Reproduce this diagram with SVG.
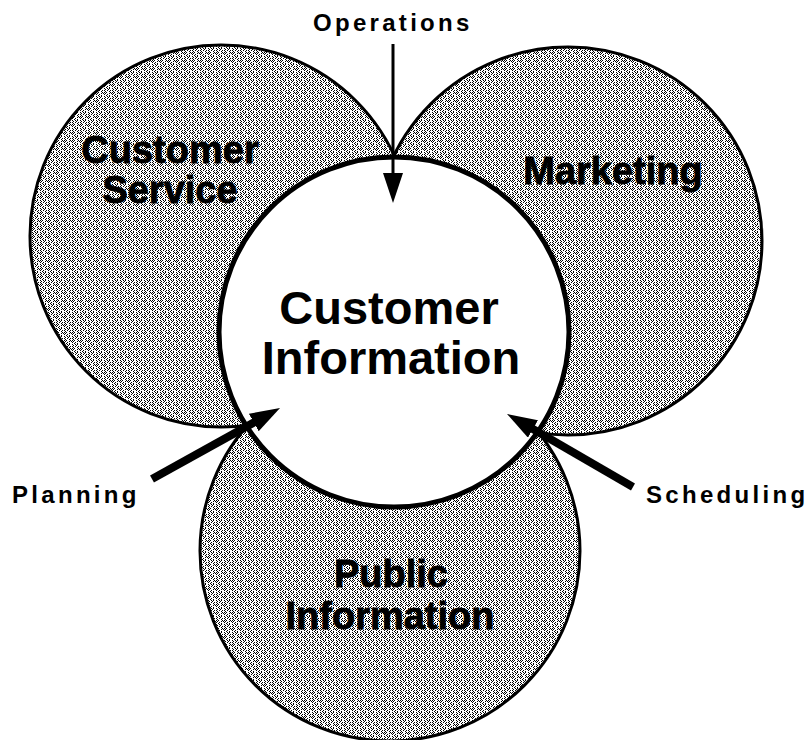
<svg xmlns="http://www.w3.org/2000/svg" width="810" height="740" viewBox="0 0 810 740">
<style>
.bg{fill:#fff}
.outer{fill:url(#stipple);stroke:#000;stroke-width:3}
.core{fill:#fff;stroke:#000;stroke-width:5}
.lbl{font-family:"Liberation Sans",Arial,sans-serif;font-weight:bold;fill:#000;text-anchor:middle}
.area{font-size:38px;stroke:#000;stroke-width:0.8}
.main{font-size:47px}
.src{font-family:"Liberation Sans",Arial,sans-serif;font-weight:bold;font-size:24px;letter-spacing:3.3px;fill:#000}
.thin{stroke:#000;stroke-width:3;fill:none;marker-end:url(#head)}
.thick{stroke:#000;stroke-width:8;fill:none;marker-end:url(#head)}
</style>
<defs>
<pattern id="stipple" patternUnits="userSpaceOnUse" x="0" y="0" width="8" height="8">
<rect width="8" height="8" fill="#fff"/>
<path fill="#000" d="M0 0h1v1h-1zM3 0h1v1h-1zM5 0h1v1h-1zM1 1h1v1h-1zM4 1h1v1h-1zM0 2h1v1h-1zM3 2h1v1h-1zM6 2h1v1h-1zM1 3h1v1h-1zM5 3h1v1h-1zM0 4h1v1h-1zM2 4h1v1h-1zM6 4h1v1h-1zM1 5h1v1h-1zM5 5h1v1h-1zM7 5h1v1h-1zM0 6h1v1h-1zM3 6h1v1h-1zM2 7h1v1h-1zM5 7h1v1h-1z"/>
</pattern>
<marker id="head" viewBox="0 0 30 20" refX="4" refY="10" markerWidth="30" markerHeight="20" markerUnits="userSpaceOnUse" orient="auto">
<path d="M0,0 L30,10 L0,20 z" fill="#000"/>
</marker>
</defs>
<rect class="bg" width="810" height="740"/>
<g id="customer-service">
<circle class="outer" cx="221" cy="236" r="191"/>
<text class="lbl area" x="170" y="163">Customer</text>
<text class="lbl area" x="170" y="203">Service</text>
</g>
<g id="marketing">
<circle class="outer" cx="568" cy="241" r="194"/>
<text class="lbl area" x="613" y="184">Marketing</text>
</g>
<g id="public-information">
<circle class="outer" cx="390" cy="551" r="190"/>
<text class="lbl area" x="391" y="587">Public</text>
<text class="lbl area" x="390" y="629">Information</text>
</g>
<g id="customer-information">
<circle class="core" cx="394" cy="332" r="175"/>
<text class="lbl main" x="389" y="324">Customer</text>
<text class="lbl main" x="391" y="374">Information</text>
</g>
<g id="operations">
<text class="src" x="313" y="31">Operations</text>
</g>
<g id="planning">
<text class="src" x="12" y="503">Planning</text>
</g>
<g id="scheduling">
<text class="src" x="646" y="503">Scheduling</text>
</g>
<g id="connectors">
<line class="thin" x1="393" y1="44" x2="393" y2="177"/>
<line class="thick" x1="152" y1="479" x2="257.3" y2="420.6"/>
<line class="thick" x1="633" y1="487" x2="529.5" y2="427"/>
</g>
</svg>
